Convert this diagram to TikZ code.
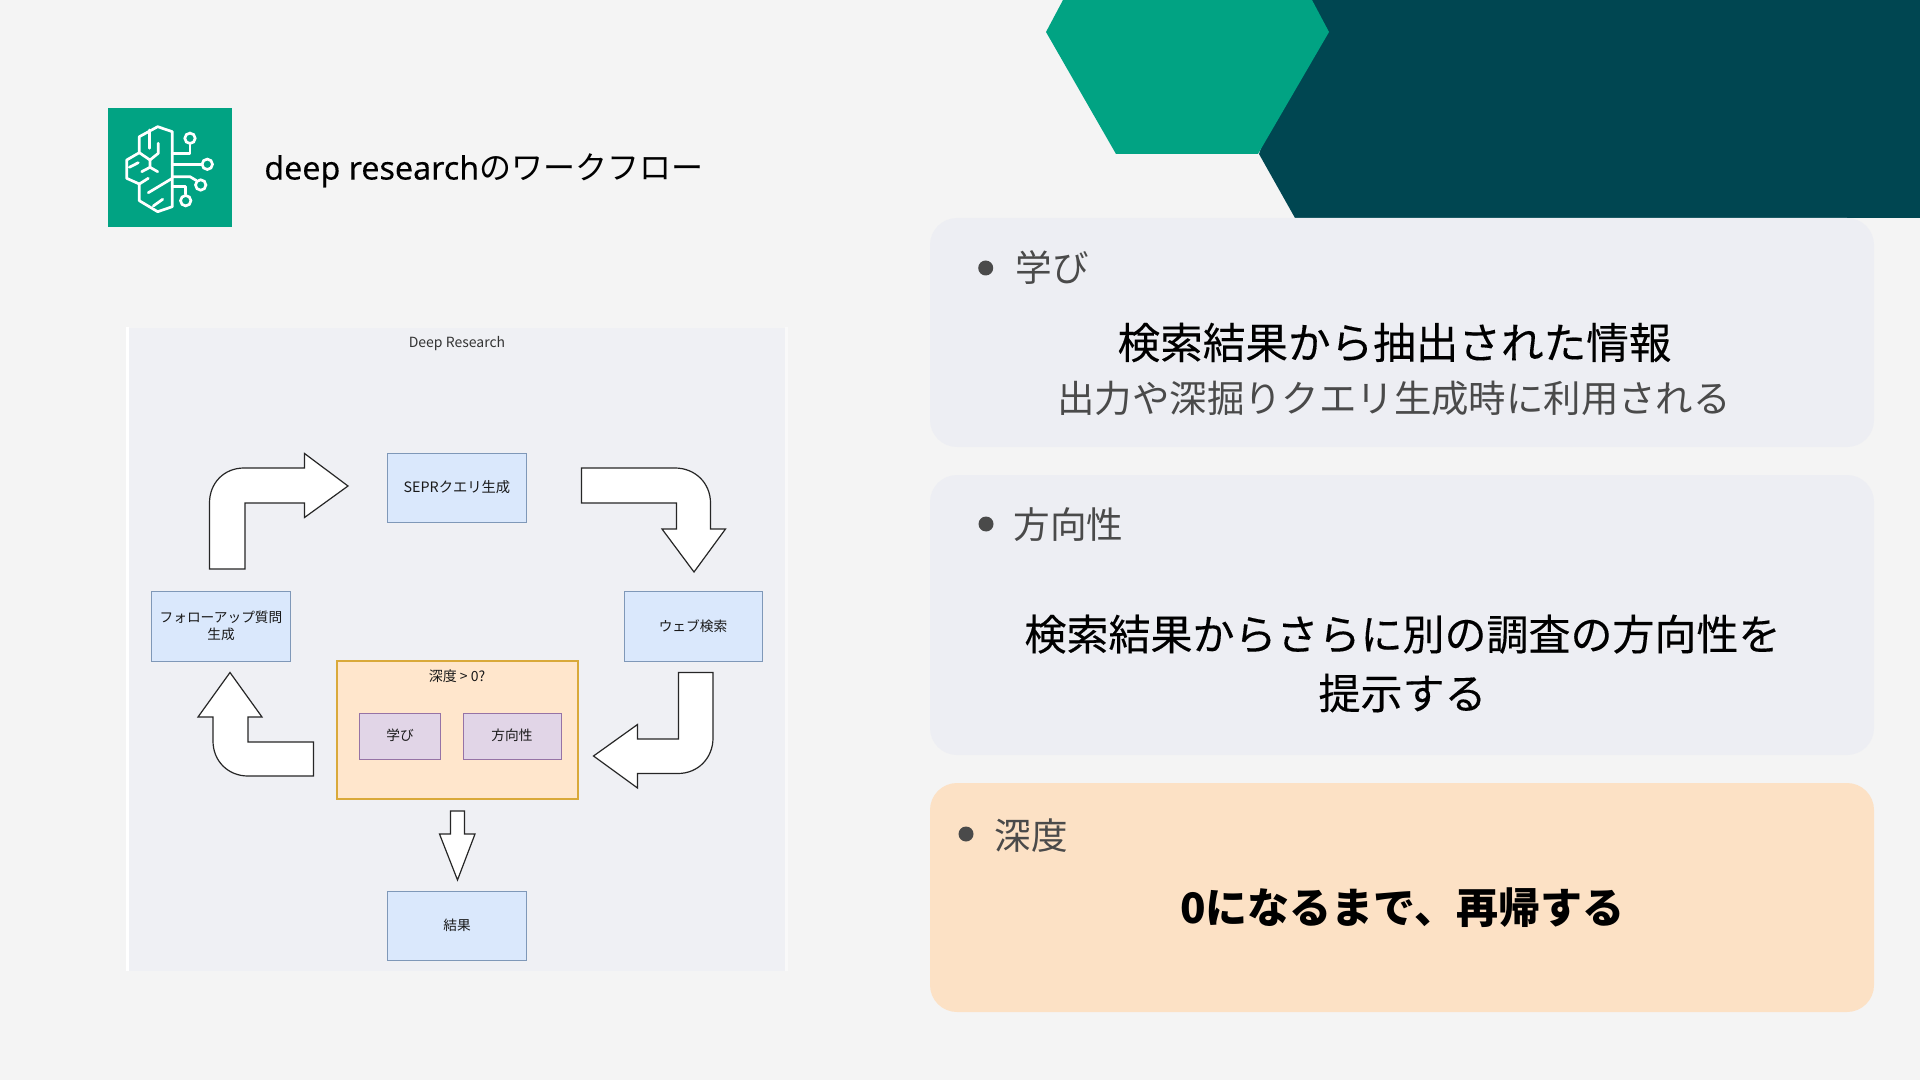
\documentclass[tikz,border=0pt]{standalone}
\usepackage{fontspec}
\setmainfont{Noto Sans CJK JP}
\newfontfamily\latinfont[FakeBold=0.2]{Noto Sans}
\newfontfamily\heavyfont[FakeBold=0.25]{Noto Sans CJK JP}
\definecolor{pagebg}{HTML}{F4F4F4}
\definecolor{tealgreen}{HTML}{01A383}
\definecolor{darkteal}{HTML}{004651}
\definecolor{cardgrey}{HTML}{EDEEF3}
\definecolor{cardorange}{HTML}{FCE1C5}
\definecolor{panelgrey}{HTML}{EFF0F4}
\definecolor{bluefill}{HTML}{DAE8FC}
\definecolor{blueline}{HTML}{7F98B8}
\definecolor{orangefill}{HTML}{FFE6CC}
\definecolor{orangeline}{HTML}{D9A93A}
\definecolor{purplefill}{HTML}{E1D5E7}
\definecolor{purpleline}{HTML}{9673A6}
\definecolor{greytext}{HTML}{4A4A4A}
\tikzset{
  x=0.5pt,y=-0.5pt,
  card/.style={rounded corners=13.5pt,draw=none},
  flowbox/.style={draw=blueline,fill=bluefill,line width=0.5pt,inner sep=0pt,align=center,font=\fontsize{6.85}{8.5}\selectfont,text=black!90},
  purplebox/.style={draw=purpleline,fill=purplefill,line width=0.45pt,inner sep=0pt,align=center,font=\fontsize{6.85}{8.5}\selectfont,text=black!90},
  blockarrow/.style={draw=black!85,fill=white,line width=0.6pt,line join=miter},
  head/.style={inner sep=0pt,font=\fontsize{18.3}{23}\selectfont,text=greytext,anchor=west},
  mainline/.style={inner sep=0pt,font=\heavyfont\fontsize{21}{26}\selectfont,text=black,align=center},
  subline/.style={inner sep=0pt,font=\fontsize{18.7}{23}\selectfont,text=greytext,align=center},
  dotmark/.style={circle,fill=greytext,draw=none,minimum size=7.5pt,inner sep=0pt},
  iconline/.style={draw=white,line width=1.35pt,line join=round,line cap=round},
  iconring/.style={circle,draw=white,line width=1.35pt,minimum size=5.2pt,inner sep=0pt}
}
\begin{document}
\begin{tikzpicture}
\useasboundingbox (0,0) rectangle (1920,1080);
\fill[pagebg] (0,0) rectangle (1920,1080);
% top right decoration
\fill[darkteal] (1312,0) -- (1920,0) -- (1920,218) -- (1295,218) -- (1259,154) -- cycle;
\fill[tealgreen] (1063,0) -- (1312,0) -- (1329,32) -- (1258,154) -- (1116,154) -- (1046,32) -- cycle;
% icon
\fill[tealgreen] (108.3,108) rectangle (231.7,226.7);
\draw[iconline] (157.7,126.7) -- (172.3,131.7) -- (172.3,206.7) -- (157.7,211.7) -- (139.3,200.7) -- (139.3,184) -- (126.7,178.3) -- (126.7,160) -- (139.3,152.7) -- (139.3,136.7) -- cycle;
\draw[iconline] (149.3,130) -- (149.3,148.3);
\draw[iconline] (158.3,143.3) -- (158.3,153.3) -- (150,160) -- (150,167.3);
\draw[iconline] (139.3,152.7) -- (150,160);
\draw[iconline] (141.7,171.7) -- (150,167.3) -- (157.7,171.7);
\draw[iconline] (129.3,167.3) -- (138.3,162.7);
\draw[iconline] (139.3,184) -- (148.3,178.3);
\draw[iconline] (148.3,192.7) -- (172.3,178.3);
\draw[iconline] (153.3,206) -- (162.7,199.3);
\node[iconring] (ringa) at (190,138.3) {};
\node[iconring] (ringb) at (207.3,164.3) {};
\node[iconring] (ringc) at (200.7,185) {};
\node[iconring] (ringd) at (185.7,200.7) {};
\draw[iconline] (172.3,153.3) -- (190,153.3) -- (ringa.south);
\draw[iconline] (172.3,164.3) -- (ringb.west);
\draw[iconline] (172.3,176.7) -- (190,176.7) -- (ringc.north west);
\draw[iconline] (172.3,186.7) -- (185.7,186.7) -- (ringd.north);
\node[inner sep=0pt,anchor=west] (title) at (264,170.5) {\latinfont\fontsize{16.1}{20}\selectfont deep research\fontspec{Noto Sans CJK JP}\fontsize{16}{20}\selectfont のワークフロー};
% diagram panel
\fill[white] (126,327) rectangle (129,971);
\fill[white!50!pagebg] (785,327) rectangle (788,971);
\fill[panelgrey] (129,328) rectangle (785,971);
\node[inner sep=0pt,font=\fontsize{7}{9}\selectfont,text=black!80] (paneltitle) at (457,343.5) {Deep Research};
\node[flowbox,minimum width=69.5pt,minimum height=34.5pt,font=\fontsize{7.15}{8.5}\selectfont] (sepr) at (457,487.5) {SEPRクエリ生成};
\node[flowbox,minimum width=69.5pt,minimum height=35pt] (follow) at (221,626) {フォローアップ質問\\生成};
\node[flowbox,minimum width=69pt,minimum height=35pt] (web) at (693,626) {ウェブ検索};
\node[draw=orangeline,fill=orangefill,line width=0.6pt,minimum width=120.5pt,minimum height=69pt,inner sep=0pt] (depth) at (457.5,730) {};
\node[inner sep=0pt,font=\fontsize{7}{9}\selectfont,text=black!90] (depthlabel) at (457,676) {深度 > 0?};
\node[purplebox,minimum width=40.5pt,minimum height=23pt] (learn) at (400,736) {\raisebox{1.6pt}{学び}};
\node[purplebox,minimum width=49pt,minimum height=23pt] (direction) at (512,736) {\raisebox{1.6pt}{方向性}};
\node[flowbox,minimum width=69.5pt,minimum height=34.5pt] (result) at (457,925.5) {結果};
% block arrows
\draw[blockarrow] (209.5,569) -- (209.5,503) .. controls (209.5,483) and (224,468) .. (244,468) -- (304.5,468) -- (304.5,453.5) -- (348,486) -- (304.5,517.5) -- (304.5,503) -- (245,503) -- (245,569) -- cycle;
\draw[blockarrow] (581.5,468) -- (675,468) .. controls (695,468) and (710.5,483) .. (710.5,503) -- (710.5,529) -- (725.5,529) -- (694,572) -- (662,529) -- (676.5,529) -- (676.5,503) -- (581.5,503) -- cycle;
\draw[blockarrow] (678.5,672.5) -- (713,672.5) -- (713,738) .. controls (713,758) and (698,773.5) .. (678,773.5) -- (637.5,773.5) -- (637.5,788) -- (593.5,756) -- (637.5,724.5) -- (637.5,739) -- (678.5,739) -- cycle;
\draw[blockarrow] (313.5,742) -- (248,742) -- (248,717) -- (262,717) -- (230,672.5) -- (198,717) -- (213,717) -- (213,741) .. controls (213,761) and (228,776) .. (248,776) -- (313.5,776) -- cycle;
\draw[blockarrow] (450.5,811) -- (464.5,811) -- (464.5,834) -- (475,834) -- (457.5,880) -- (439.5,834) -- (450.5,834) -- cycle;
% cards
\fill[card,fill=cardgrey] (930,218) rectangle (1874,447);
\fill[card,fill=cardgrey] (930,475) rectangle (1874,755);
\fill[card,fill=cardorange] (930,783) rectangle (1874,1012);
% card one
\node[dotmark] (dota) at (985.7,268) {};
\node[head] (heada) at (1015,268) {学び};
\node[mainline,font=\heavyfont\fontsize{21.3}{26}\selectfont] (maina) at (1394.5,342.5) {検索結果から抽出された情報};
\node[subline] (suba) at (1394,398) {出力や深掘りクエリ生成時に利用される};
% card two
\node[dotmark] (dotb) at (986,524) {};
\node[head] (headb) at (1013,525) {方向性};
\node[mainline] (mainb) at (1402.5,663.5) {検索結果からさらに別の調査の方向性を\\[3.5pt]提示する};
% card three
\node[dotmark] (dotc) at (966,834) {};
\node[head] (headc) at (994,836) {深度};
\node[mainline,font=\fontsize{21}{26}\selectfont\bfseries] (mainc) at (1402,908) {0になるまで、再帰する};
\end{tikzpicture}
\end{document}
